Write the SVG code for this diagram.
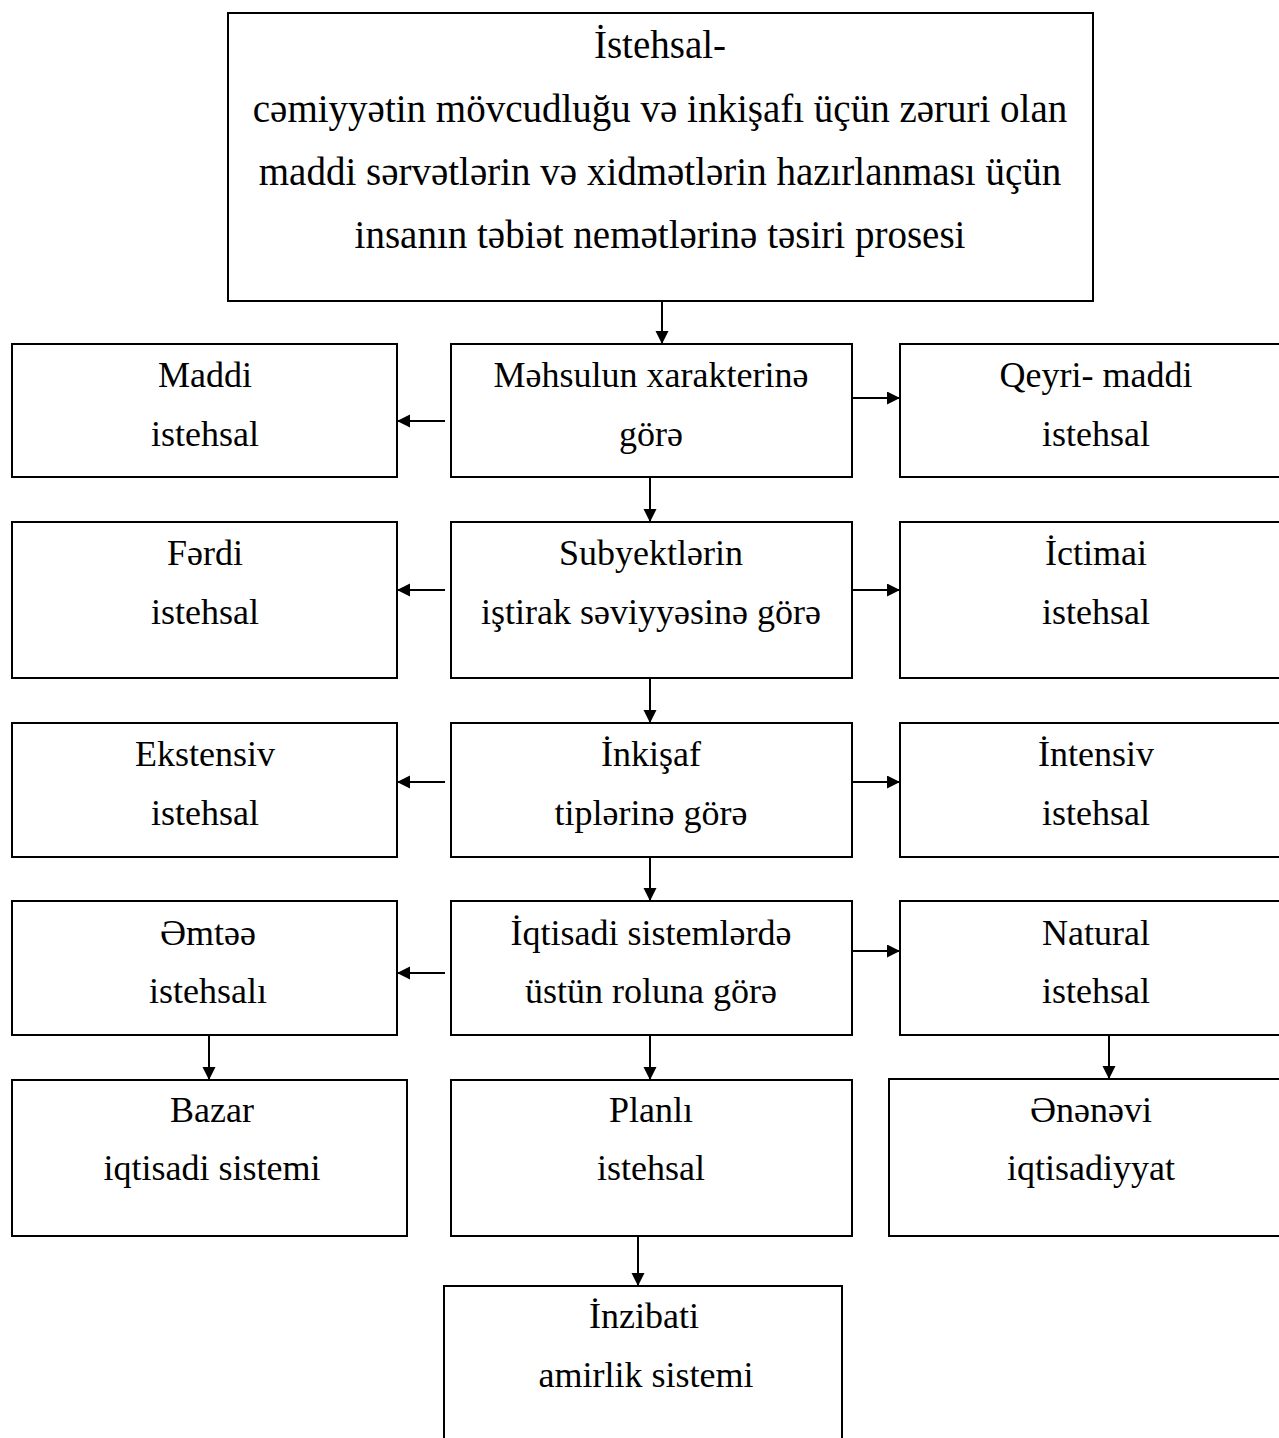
<svg xmlns="http://www.w3.org/2000/svg" width="1279" height="1438" viewBox="0 0 1279 1438">
<style>
rect{fill:#fff;stroke:#000;stroke-width:2}
text{font-family:"Liberation Serif","Times New Roman",serif;font-size:36px;fill:#000;text-anchor:middle}
#top text{font-size:39px}
.c line{stroke:#000;stroke-width:2;marker-end:url(#ah)}
</style>
<defs>
<marker id="ah" markerUnits="userSpaceOnUse" markerWidth="14" markerHeight="14" refX="13" refY="6.5" orient="auto">
<path d="M0,0 L13,6.5 L0,13 z" fill="#000"/>
</marker>
</defs>
<rect x="0" y="0" width="1279" height="1438" style="stroke:none"/>
<g id="top"><rect x="228" y="13" width="865" height="288"/>
<text x="660" y="58">İstehsal-</text>
<text x="660" y="122">cəmiyyətin mövcudluğu və inkişafı üçün zəruri olan</text>
<text x="660" y="185">maddi sərvətlərin və xidmətlərin hazırlanması üçün</text>
<text x="660" y="248">insanın təbiət nemətlərinə təsiri prosesi</text></g>

<g id="n1l"><rect x="12" y="344" width="385" height="133"/><text x="205" y="387">Maddi</text><text x="205" y="446">istehsal</text></g>
<g id="n1m"><rect x="451" y="344" width="401" height="133"/><text x="651" y="387">Məhsulun xarakterinə</text><text x="651" y="446">görə</text></g>
<g id="n1r"><rect x="900" y="344" width="392" height="133"/><text x="1096" y="387">Qeyri- maddi</text><text x="1096" y="446">istehsal</text></g>

<g id="n2l"><rect x="12" y="522" width="385" height="156"/><text x="205" y="565">Fərdi</text><text x="205" y="624">istehsal</text></g>
<g id="n2m"><rect x="451" y="522" width="401" height="156"/><text x="651" y="565">Subyektlərin</text><text x="651" y="624">iştirak səviyyəsinə görə</text></g>
<g id="n2r"><rect x="900" y="522" width="392" height="156"/><text x="1096" y="565">İctimai</text><text x="1096" y="624">istehsal</text></g>

<g id="n3l"><rect x="12" y="723" width="385" height="134"/><text x="205" y="766">Ekstensiv</text><text x="205" y="825">istehsal</text></g>
<g id="n3m"><rect x="451" y="723" width="401" height="134"/><text x="651" y="766">İnkişaf</text><text x="651" y="825">tiplərinə görə</text></g>
<g id="n3r"><rect x="900" y="723" width="392" height="134"/><text x="1096" y="766">İntensiv</text><text x="1096" y="825">istehsal</text></g>

<g id="n4l"><rect x="12" y="901" width="385" height="134"/><text x="208" y="945">Əmtəə</text><text x="208" y="1003">istehsalı</text></g>
<g id="n4m"><rect x="451" y="901" width="401" height="134"/><text x="651" y="945">İqtisadi sistemlərdə</text><text x="651" y="1003">üstün roluna görə</text></g>
<g id="n4r"><rect x="900" y="901" width="392" height="134"/><text x="1096" y="945">Natural</text><text x="1096" y="1003">istehsal</text></g>

<g id="n5l"><rect x="12" y="1080" width="395" height="156"/><text x="212" y="1122">Bazar</text><text x="212" y="1180">iqtisadi sistemi</text></g>
<g id="n5m"><rect x="451" y="1080" width="401" height="156"/><text x="651" y="1122">Planlı</text><text x="651" y="1180">istehsal</text></g>
<g id="n5r"><rect x="889" y="1079" width="403" height="157"/><text x="1091" y="1122">Ənənəvi</text><text x="1091" y="1180">iqtisadiyyat</text></g>

<g id="n6"><rect x="444" y="1286" width="398" height="160"/><text x="644" y="1328">İnzibati</text><text x="646" y="1387">amirlik sistemi</text></g>

<g id="connectors" class="c">
<line x1="662" y1="301" x2="662" y2="344"/>
<line x1="445" y1="421" x2="397" y2="421"/>
<line x1="853" y1="398" x2="900" y2="398"/>
<line x1="650" y1="477" x2="650" y2="522"/>
<line x1="445" y1="590" x2="397" y2="590"/>
<line x1="853" y1="590" x2="900" y2="590"/>
<line x1="650" y1="678" x2="650" y2="723"/>
<line x1="445" y1="782" x2="397" y2="782"/>
<line x1="853" y1="782" x2="900" y2="782"/>
<line x1="650" y1="857" x2="650" y2="901"/>
<line x1="445" y1="973" x2="397" y2="973"/>
<line x1="853" y1="951" x2="900" y2="951"/>
<line x1="209" y1="1035" x2="209" y2="1080"/>
<line x1="650" y1="1035" x2="650" y2="1080"/>
<line x1="1109" y1="1035" x2="1109" y2="1079"/>
<line x1="638" y1="1236" x2="638" y2="1286"/>
</g>
</svg>
